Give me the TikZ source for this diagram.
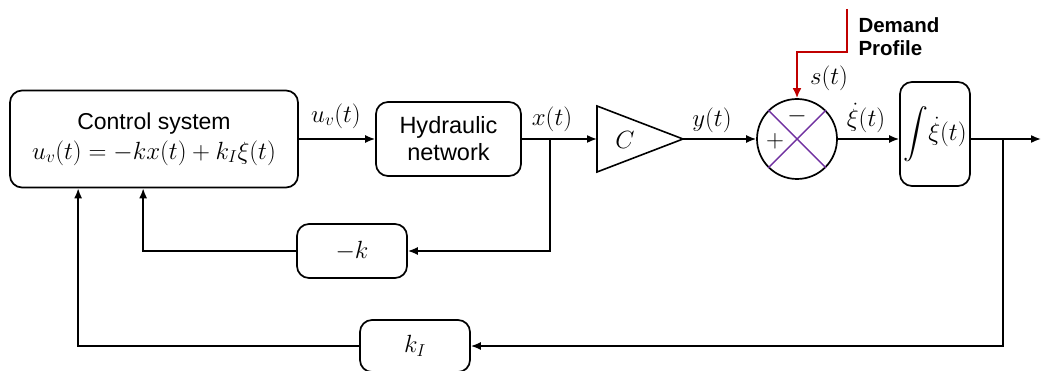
\documentclass[tikz,border=0pt]{standalone}
\usepackage{amsmath}
\usepackage{fontspec}
\setmainfont{Liberation Sans}
\usetikzlibrary{arrows.meta,positioning,calc}
\definecolor{demand}{HTML}{C00000}
\definecolor{crossline}{HTML}{7030A0}

\tikzset{
  block/.style={draw, line width=1.7pt, rounded corners=12pt, align=center, inner sep=0pt},
  conn/.style={line width=1.6pt, -{Latex[length=10pt,width=8pt]}},
  wire/.style={line width=1.6pt},
  sig/.style={font=\fontsize{25}{29}\selectfont},
}

\begin{document}
\begin{tikzpicture}[x=1pt, y=-1pt]
  \useasboundingbox (0,0) rectangle (1043,371);
  % Blocks
  \node[block, minimum width=288pt, minimum height=97pt, font=\fontsize{23}{30}\selectfont] (ctrl) at (154,139) {Control system\\\fontsize{26}{30}\selectfont$u_v(t)=-kx(t)+k_I\xi(t)$};
  \node[block, minimum width=145pt, minimum height=74pt, font=\fontsize{23.5}{27}\selectfont] (hyd) at (448.5,139) {Hydraulic\\network};
  \draw[wire] (597,106) -- (683,139) -- (597,172) -- cycle;
  \coordinate (gin) at (597,139);
  \coordinate (gout) at (683,139);
  \node[font=\fontsize{28}{32}\selectfont] (gain) at (625,140) {$C$};
  \node[circle, draw, line width=1.7pt, minimum size=80pt, inner sep=0pt] (sum) at (797,139) {};
  \draw[crossline, line width=1.4pt] (sum.45) -- (sum.225) (sum.135) -- (sum.315);
  \node[sig] (minus) at (797,116) {$-$};
  \node[sig] (plus) at (775,141) {$+$};
  \node[block, minimum width=70pt, minimum height=104pt, font=\fontsize{24}{28}\selectfont] (integ) at (935,134) {$\displaystyle\int\!\dot{\xi}(t)$};
  \node[block, minimum width=110pt, minimum height=54pt, font=\fontsize{25}{28}\selectfont] (negk) at (352,251) {$-k$};
  \node[block, minimum width=110pt, minimum height=52pt, font=\fontsize{25}{28}\selectfont] (kI) at (415,346) {$k_I$};
  % Forward path
  \draw[conn] (ctrl.east) -- (hyd.west);
  \draw[conn] (hyd.east) -- (gin);
  \draw[conn] (gout) -- (sum.west);
  \draw[conn] (sum.east) -- (sum.east -| integ.west);
  \coordinate (out) at (1041,139);
  \draw[conn] (integ.east |- sum.east) -- (out);
  % Signal labels
  \node[sig] (uv) at (336,116) {$u_v(t)$};
  \node[sig] (xt) at (552,119) {$x(t)$};
  \node[sig] (yt) at (712,120) {$y(t)$};
  \node[sig] (xidot) at (866,118) {$\dot{\xi}(t)$};
  \node[sig] (st) at (829,78) {$s(t)$};
  % Feedback loops
  \coordinate (xb) at (550,139);
  \draw[conn] (xb) |- (negk.east);
  \draw[conn] (negk.west) -| ([xshift=134pt]ctrl.south west);
  \coordinate (ob) at (1003,139);
  \draw[conn] (ob) |- (kI.east);
  \draw[conn] (kI.west) -| ([xshift=69pt]ctrl.south west);
  % Demand profile input
  \coordinate (dp) at (847,9);
  \coordinate (dk) at (797,52);
  \draw[demand, line width=2.4pt, -{Latex[length=10pt,width=9pt]}] (dp) -- (dp |- dk) -- (dk) -- (sum.north);
  \node[anchor=west, align=left, font=\bfseries\fontsize{20.5}{23}\selectfont] (dtxt) at (855,37) {Demand\\Profile};
\end{tikzpicture}
\end{document}
